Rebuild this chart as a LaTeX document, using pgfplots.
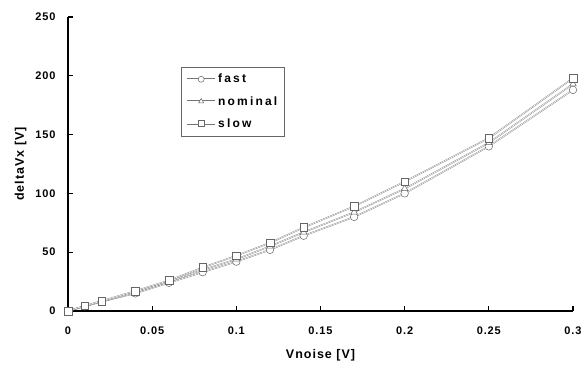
\documentclass[border=0pt]{standalone}
\usepackage{pgfplots}
\pgfplotsset{compat=1.18}
\usepackage{fontspec}
\setmainfont{Liberation Sans}
\newfontfamily\chartfont[LetterSpace=8]{Liberation Sans}
\newfontfamily\legfont[LetterSpace=18]{Liberation Sans}
\begin{document}
\begin{tikzpicture}
\pgfplotstableread{
x fast nominal slow
0 0 0 0
0.01 4 4 4.5
0.02 8 8 8.5
0.04 15 16 17
0.06 24 25 26
0.08 33 35 37
0.1 42 44 47
0.12 52 55 58
0.14 64 67 71
0.17 80 84 89
0.2 100 104 110
0.25 140 143 147
0.3 188 193 198
}\datatable
\begin{axis}[
  at={(0pt,0pt)}, anchor=south west,
  scale only axis, width=505pt, height=294pt,
  xmin=0, xmax=0.3, ymin=0, ymax=250,
  axis x line=bottom, axis y line=left,
  axis line style={-, line width=1.2pt},
  xtick={0,0.05,...,0.3}, ytick={0,50,...,250},
  xticklabels={0,0.05,0.1,0.15,0.2,0.25,0.3},
  tick style={line width=1.2pt, black}, major tick length=5pt,
  tick align=inside,
  /pgf/number format/assume math mode=true,
  ticklabel style={font=\chartfont\bfseries\fontsize{11}{13}\selectfont},
  xticklabel style={yshift=-12pt},
  yticklabel style={xshift=-9pt},
  xlabel={Vnoise [V]}, ylabel={deltaVx [V]},
  label style={font=\chartfont\bfseries\fontsize{12.5}{14}\selectfont},
  xlabel style={yshift=-8pt},
  ylabel style={yshift=2pt},
  clip=false,
  legend style={at={(113pt,244pt)}, anchor=north west, draw=gray!80!black,
    font=\legfont\bfseries\fontsize{12}{14}\selectfont, row sep=8pt, inner xsep=5pt, inner ysep=5pt,
    legend cell align=left},
  legend image code/.code={%
    \draw[black!55, line width=0.7pt] (0pt,0pt) -- (28pt,0pt);
    \draw[#1, double=none, mark size=3pt, mark options={fill=white, draw=black!60, line width=0.5pt, solid}] plot coordinates {(14pt,0pt)};},
  every axis plot/.append style={line width=0.35pt, color=black!55, double=white, double distance=0.6pt, mark size=3.8pt,
     mark options={fill=white, draw=black!60, line width=0.5pt, double=none, solid}},
]
\addplot[mark=*] table[x=x,y=fast] {\datatable};
\addplot[mark=triangle*] table[x=x,y=nominal] {\datatable};
\addplot[mark=square*] table[x=x,y=slow] {\datatable};
\legend{fast,nominal,slow}
\end{axis}
\pgfresetboundingbox
\path[use as bounding box] (-68pt,-55pt) rectangle (516pt,311pt);
\end{tikzpicture}
\end{document}
